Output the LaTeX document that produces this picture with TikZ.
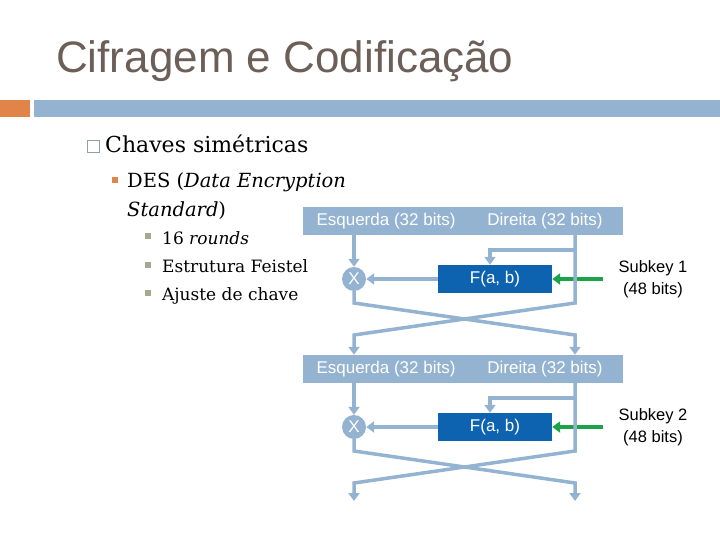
\documentclass[tikz,border=0pt]{standalone}
\usepackage{fontspec}
\newfontfamily\sansf{Liberation Sans}
\newfontfamily\seriff{DejaVu Serif}
\usetikzlibrary{arrows.meta}
\definecolor{titlegray}{HTML}{6B5F58}
\definecolor{orangeb}{HTML}{E0844A}
\definecolor{barblue}{HTML}{94B3D1}
\definecolor{fblue}{HTML}{0D63B0}
\definecolor{keygreen}{HTML}{1BA34A}
\definecolor{olivegray}{HTML}{A7A890}
\definecolor{boxgray}{HTML}{8FA0B3}
\begin{document}
\begin{tikzpicture}[x=1pt,y=-1pt,
  bar/.style={fill=barblue, draw=none, minimum width=320pt, minimum height=28pt, inner sep=0pt},
  bartext/.style={text=white, font=\sansf\fontsize{17}{20}\selectfont, inner sep=0pt},
  xnode/.style={circle, fill=barblue, text=white, minimum size=24pt, inner sep=0pt, font=\sansf\fontsize{17}{18}\selectfont},
  fbox/.style={fill=fblue, text=white, minimum width=114pt, minimum height=28pt, inner sep=0pt, font=\sansf\fontsize{17}{20}\selectfont},
  keytext/.style={align=center, font=\sansf\fontsize{16.5}{22}\selectfont, inner sep=0pt},
  flow/.style={draw=barblue, line width=3.5pt, -{Triangle[width=11pt,length=8pt]}},
  keyarrow/.style={draw=keygreen, line width=3.5pt, -{Triangle[width=11pt,length=8pt]}},
  bodytext/.style={anchor=base west, inner sep=0pt}
]
\useasboundingbox (0,0) rectangle (720,540);
% header
\node[bodytext, text=titlegray, font=\sansf\fontsize{44}{48}\selectfont] (title) at (56,73) {Cifragem e Codificação};
\fill[orangeb] (0,100) rectangle (30,117);
\fill[barblue] (34,100) rectangle (720,117);
% bullets
\draw[boxgray, line width=1pt] (87,141) rectangle (99,153);
\node[bodytext, font=\seriff\fontsize{22}{26}\selectfont] (chaves) at (105,153) {Chaves simétricas};
\fill[orangeb] (112,177) rectangle (118,183);
\node[bodytext, font=\seriff\fontsize{19.5}{24}\selectfont] (des) at (127,188) {DES (\textit{Data Encryption}};
\node[bodytext, font=\seriff\fontsize{19.5}{24}\selectfont] (std) at (127,216) {\textit{Standard})};
\fill[olivegray] (145,233) rectangle (151,239);
\fill[olivegray] (145,262) rectangle (151,268);
\fill[olivegray] (145,290) rectangle (151,296);
\node[bodytext, font=\seriff\fontsize{17}{20}\selectfont] (r16) at (162,244) {16 \textit{rounds}};
\node[bodytext, font=\seriff\fontsize{17}{20}\selectfont] (feis) at (162,272) {Estrutura Feistel};
\node[bodytext, font=\seriff\fontsize{17}{20}\selectfont] (ajus) at (162,300) {Ajuste de chave};
% round 1
\node[bar] (bar1) at (463,221) {};
\node[bartext] (e1) at (386,221) {Esquerda (32 bits)};
\node[bartext] (d1) at (545,221) {Direita (32 bits)};
\node[xnode] (x1) at (354,279) {X};
\node[fbox] (f1) at (495,279) {F(a, b)};
\node[keytext] (k1) at (653,279) {Subkey 1\\(48 bits)};
\coordinate (r1) at (575,235);
\coordinate (fb1) at (575,250);
\coordinate (g1) at (603,279);
% round 2
\node[bar] (bar2) at (463,369) {};
\node[bartext] (e2) at (386,369) {Esquerda (32 bits)};
\node[bartext] (d2) at (545,369) {Direita (32 bits)};
\node[xnode] (x2) at (354,427) {X};
\node[fbox] (f2) at (495,427) {F(a, b)};
\node[keytext] (k2) at (653,427) {Subkey 2\\(48 bits)};
\coordinate (r2) at (575,383);
\coordinate (fb2) at (575,398);
\coordinate (g2) at (603,427);
\coordinate (endl) at (354,501);
\coordinate (endr) at (575,501);
% connectors round 1
\draw[flow] (bar1.south -| x1) -- (x1.north);
\draw[flow] (f1.west) -- (x1.east);
\draw[flow] (fb1) -| ([xshift=-5pt]f1.north);
\draw[keyarrow] (g1) -- (f1.east);
\draw[flow] (r1) -- (575,303) -- (354,335) -- (bar2.north -| x1);
\draw[flow] (x1.south) -- (354,303) -- (575,335) -- (bar2.north -| r1);
% connectors round 2
\draw[flow] (bar2.south -| x2) -- (x2.north);
\draw[flow] (f2.west) -- (x2.east);
\draw[flow] (fb2) -| ([xshift=-5pt]f2.north);
\draw[keyarrow] (g2) -- (f2.east);
\draw[flow] (r2) -- (575,451) -- (354,483) -- (endl);
\draw[flow] (x2.south) -- (354,451) -- (575,483) -- (endr);
\end{tikzpicture}
\end{document}
